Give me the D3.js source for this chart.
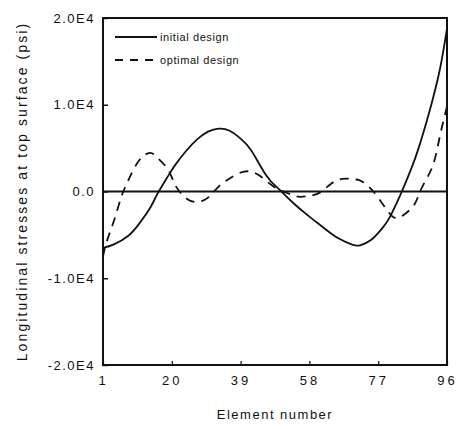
<!DOCTYPE html>
<html>
<head>
<meta charset="utf-8">
<script src="https://cdn.jsdelivr.net/npm/d3@7"></script>
<style>
  body { margin: 0; background: white; }
  text { font-family: "Liberation Sans", Arial, sans-serif; fill: #111; }
</style>
</head>
<body>
<div id="canvas"></div>
<script>
// DATA
const initialElements = [1, 4, 8, 11, 14, 16, 19, 21, 24, 27, 30, 33, 36, 39, 42, 46, 49, 51, 54, 58, 62, 66, 70, 72, 75, 78, 80, 83, 86, 88, 91, 94, 96];
const initialStress = [-6500, -6100, -5100, -3700, -1900, -300, 1800, 3100, 4700, 6000, 6900, 7250, 7000, 6100, 4700, 1900, 500, -300, -1500, -2900, -4200, -5400, -6150, -6200, -5600, -4300, -3100, -500, 2500, 4800, 9000, 14000, 18800];

const optimalElements = [1, 2, 4, 6, 8, 11, 14, 16, 19, 21, 24, 27, 30, 33, 36, 40, 44, 48, 52, 55, 58, 61, 64, 67, 70, 73, 77, 81, 84, 87, 89, 92, 94, 96];
const optimalStress = [-7500, -5800, -3400, -700, 1300, 3600, 4450, 3900, 2500, 700, -800, -1200, -700, 600, 1500, 2300, 1900, 600, -200, -600, -500, -100, 900, 1450, 1450, 1050, -700, -2900, -2700, -1500, 400, 2900, 6300, 9800];

const xTicks = [1, 20, 39, 58, 77, 96];
const yTicks = [-20000, -10000, 0, 10000, 20000];
const yTickLabels = ["-2.0E4", "-1.0E4", "0.0", "1.0E4", "2.0E4"];
const seriesNames = ["initial design", "optimal design"];

// DIMENSIONS
const width = 460;
const height = 429;
const margin = { top: 18, right: 13, bottom: 64, left: 103 };
const plot_width = width - margin.left - margin.right;
const plot_height = height - margin.top - margin.bottom;

// CANVAS AND PLOT
const canvas = d3.select("#canvas")
  .append("svg")
  .attr("width", width)
  .attr("height", height);

const plot = canvas.append("g")
  .attr("transform", `translate(${margin.left},${margin.top})`);

// SCALES
const x = d3.scaleLinear().domain([1, 96]).range([0, plot_width]);
const y = d3.scaleLinear().domain([-20000, 20000]).range([plot_height, 0]);

// FRAME
plot.append("rect")
  .attr("width", plot_width)
  .attr("height", plot_height)
  .style("fill", "none")
  .style("stroke", "#111")
  .style("stroke-width", 2);

// zero line
plot.append("line")
  .attr("x1", 0).attr("x2", plot_width)
  .attr("y1", y(0)).attr("y2", y(0))
  .style("stroke", "#111")
  .style("stroke-width", 2);

// AXES (inward ticks)
const yAxis = plot.append("g")
  .call(d3.axisLeft(y).tickValues(yTicks).tickSize(-5).tickPadding(8)
    .tickFormat((d, i) => yTickLabels[i]));
yAxis.select(".domain").remove();
yAxis.selectAll("line").style("stroke", "#111").style("stroke-width", 1.5);
yAxis.selectAll("text")
  .style("font-size", "13px")
  .style("letter-spacing", "1.5px")
  .attr("x", -8);

const xAxis = plot.append("g")
  .attr("transform", `translate(0,${plot_height})`)
  .call(d3.axisBottom(x).tickValues(xTicks).tickSize(-4).tickPadding(11));
xAxis.select(".domain").remove();
xAxis.selectAll("line").style("stroke", "#111").style("stroke-width", 1.2);
xAxis.selectAll("text")
  .style("font-size", "13px")
  .style("letter-spacing", "3px");

// LINES
const line = d3.line()
  .x(d => x(d[0]))
  .y(d => y(d[1]))
  .curve(d3.curveNatural);

const initialData = initialElements.map((e, i) => [e, initialStress[i]]);
const optimalData = optimalElements.map((e, i) => [e, optimalStress[i]]);

plot.append("path")
  .datum(initialData)
  .attr("d", line)
  .style("fill", "none")
  .style("stroke", "#111")
  .style("stroke-width", 1.8);

plot.append("path")
  .datum(optimalData)
  .attr("d", line)
  .style("fill", "none")
  .style("stroke", "#111")
  .style("stroke-width", 1.8)
  .style("stroke-dasharray", "9,7");

// LEGEND
const legend = plot.append("g").attr("transform", "translate(12,19)");
seriesNames.forEach((name, i) => {
  legend.append("line")
    .attr("x1", 0).attr("x2", 42)
    .attr("y1", i * 23).attr("y2", i * 23)
    .style("stroke", "#111")
    .style("stroke-width", 1.8)
    .style("stroke-dasharray", i === 1 ? "8,7" : null);
  legend.append("text")
    .attr("x", 45)
    .attr("y", i * 23 + 4)
    .style("font-size", "11px")
    .style("letter-spacing", "0.6px")
    .text(name);
});

// AXIS TITLES
canvas.append("text")
  .attr("transform", `translate(27,${margin.top + plot_height / 2}) rotate(-90)`)
  .attr("text-anchor", "middle")
  .style("font-size", "14px")
  .style("letter-spacing", "2.1px")
  .text("Longitudinal stresses at top surface (psi)");

canvas.append("text")
  .attr("x", margin.left + plot_width / 2)
  .attr("y", 419)
  .attr("text-anchor", "middle")
  .style("font-size", "13px")
  .style("letter-spacing", "1.5px")
  .text("Element number");
</script>
</body>
</html>
